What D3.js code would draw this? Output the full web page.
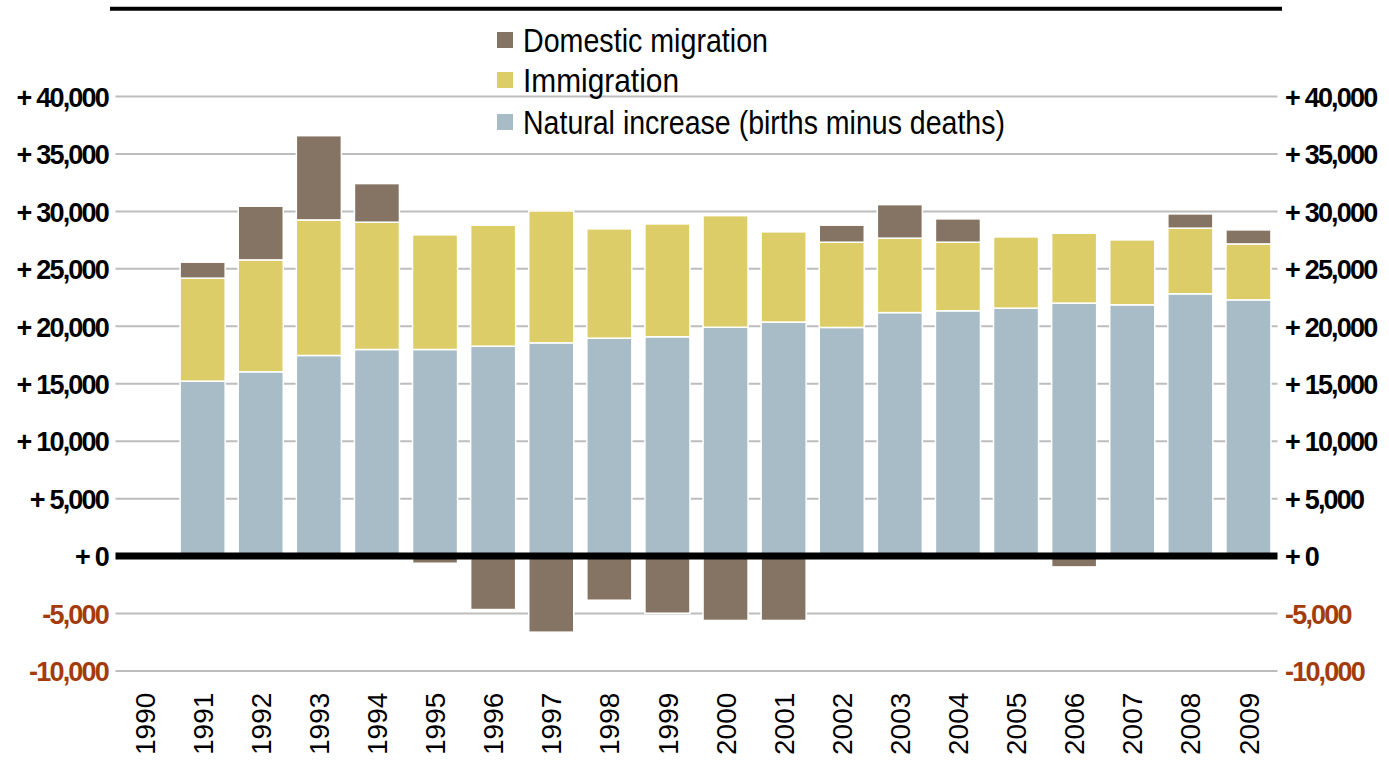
<!DOCTYPE html>
<html>
<head>
<meta charset="utf-8">
<script src="https://cdn.jsdelivr.net/npm/d3@7"></script>
<style>
  html, body { margin: 0; padding: 0; background: #fff; }
  svg { display: block; font-family: "Liberation Sans", Arial, sans-serif; }
</style>
</head>
<body>
<svg id="chart" width="1389" height="760"></svg>
<script>
const years = ["1990","1991","1992","1993","1994","1995","1996","1997","1998","1999","2000","2001","2002","2003","2004","2005","2006","2007","2008","2009"];
const naturalIncrease = [null,15230,16040,17460,17980,17980,18270,18560,18970,19090,19920,20370,19900,21190,21350,21580,22020,21870,22830,22300];
const immigration     = [null, 8960, 9740,11800,11080, 9980,10530,11480, 9510, 9820, 9710, 7850, 7420, 6480, 5970, 6200, 6080, 5650, 5710, 4870];
const domesticMigration = [null,1390, 4670, 7330, 3360, -620,-4650,-6620,-3840,-4970,-5600,-5600, 1480, 2920, 2030,    0, -940,    0, 1240, 1220];
const yTicks = [-10000,-5000,0,5000,10000,15000,20000,25000,30000,35000,40000];
const seriesNames = ["Natural increase (births minus deaths)","Immigration","Domestic migration"];
const seriesColors = ["#A7BCC7","#DCCD69","#857463"];

const svg = d3.select("#chart");
const x = d3.scaleBand().domain(years).range([115.5, 1277.5]).paddingInner(0.225).paddingOuter(0.1125);
const y = d3.scaleLinear().domain([-10000, 40000]).range([671, 96.5]);

const keys = ["nat","imm","dom"];
const rows = years.map((yr,i)=>({year: yr, nat: naturalIncrease[i]||0, imm: immigration[i]||0, dom: domesticMigration[i]||0, has: naturalIncrease[i]!==null}));
const stack = d3.stack().keys(keys).offset(d3.stackOffsetDiverging);
const stacked = stack(rows);

// top rule
svg.append("line").attr("x1",110).attr("x2",1282).attr("y1",8.7).attr("y2",8.7)
  .attr("stroke","#000").attr("stroke-width",4);

// gridlines
svg.append("g").selectAll("line").data(yTicks.filter(t=>t!==0)).join("line")
  .attr("x1",115.5).attr("x2",1277.5)
  .attr("y1",d=>y(d)).attr("y2",d=>y(d))
  .attr("stroke","#BDBDBD").attr("stroke-width",2);

// bars
const gBars = svg.append("g");
stacked.forEach((layer,li)=>{
  gBars.append("g").attr("fill",seriesColors[li])
    .selectAll("rect").data(layer.filter(d=>d.data.has && d[1]!==d[0])).join("rect")
    .attr("x",d=>x(d.data.year))
    .attr("width",x.bandwidth())
    .attr("y",d=>y(Math.max(d[0],d[1])))
    .attr("height",d=>Math.abs(y(d[0])-y(d[1])))
    .attr("stroke","#fff").attr("stroke-width",1.5);
});

// zero line
svg.append("line").attr("x1",115.5).attr("x2",1277.5).attr("y1",y(0)).attr("y2",y(0))
  .attr("stroke","#000").attr("stroke-width",7);

// y axes labels
const fmt = v => v>=0 ? "+ " + d3.format(",")(v) : "-" + d3.format(",")(Math.abs(v));
const labelColor = v => v<0 ? "#A33B0B" : "#000";
const leftAxis = d3.axisLeft(y).tickValues(yTicks).tickFormat(fmt).tickSize(0).tickPadding(0);
const gl = svg.append("g").attr("transform","translate(108,0)").call(leftAxis);
const gr = svg.append("g").attr("transform","translate(1285,0)").call(d3.axisRight(y).tickValues(yTicks).tickFormat(fmt).tickSize(0).tickPadding(0));
[gl,gr].forEach(g=>{
  g.select(".domain").remove();
  g.selectAll("text")
    .attr("font-family","'Liberation Sans', Arial, sans-serif")
    .attr("font-size",27).attr("font-weight","bold")
    .attr("letter-spacing","-1.8px")
    .attr("fill",d=>labelColor(d))
    .attr("dy","0.36em");
});

// x axis labels
const xAxis = d3.axisBottom(x).tickSize(0).tickPadding(0);
const gx = svg.append("g").call(xAxis);
gx.select(".domain").remove();
gx.selectAll(".tick text")
  .attr("font-family","'Liberation Sans', Arial, sans-serif")
  .attr("font-size",28).attr("fill","#000")
  .attr("x",0).attr("y",0).attr("dy","0.36em")
  .attr("text-anchor","start")
  .attr("transform","translate(0,755) rotate(-90)");

// legend
const legendItems = [
  {name: seriesNames[2], color: seriesColors[2], cy: 40, w: 245},
  {name: seriesNames[1], color: seriesColors[1], cy: 80, w: 156},
  {name: seriesNames[0], color: seriesColors[0], cy: 122, w: 482}
];
const gLeg = svg.append("g");
legendItems.forEach(it=>{
  gLeg.append("rect").attr("x",497).attr("y",it.cy-8).attr("width",16).attr("height",16).attr("fill",it.color);
  gLeg.append("text").attr("x",523).attr("y",it.cy).attr("dy","0.36em")
    .attr("font-size",33).attr("fill","#000")
    .attr("textLength",it.w).attr("lengthAdjust","spacingAndGlyphs")
    .text(it.name);
});
</script>
</body>
</html>
